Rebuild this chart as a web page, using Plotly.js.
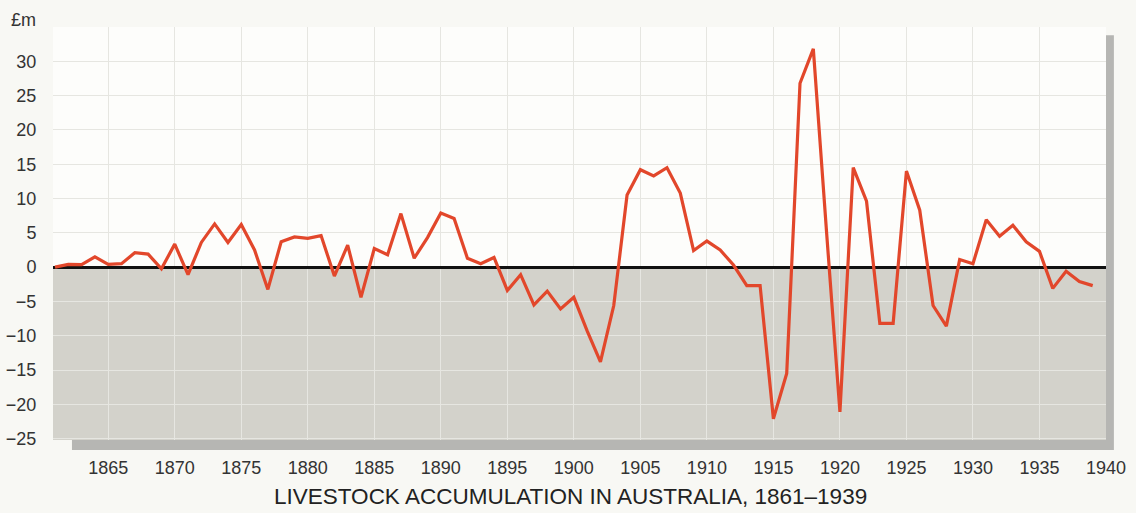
<!DOCTYPE html>
<html>
<head>
<meta charset="utf-8">
<script src="https://cdn.plot.ly/plotly-3.0.1.min.js"></script>
<style>
  html, body { margin: 0; padding: 0; background: #f8f8f4; }
  #chart { width: 1136px; height: 513px; }
</style>
</head>
<body>
<div id="chart"></div>
<script>
// Years 1861–1939
const years = [];
for (let y = 1861; y <= 1939; y++) years.push(y);

// Livestock accumulation, £m
const values = [
  0.0, 0.4, 0.35, 1.5, 0.4, 0.5, 2.1, 1.9, -0.25, 3.35,      // 1861-1870
  -1.1, 3.6, 6.3, 3.6, 6.2, 2.5, -3.25, 3.7, 4.4, 4.2,       // 1871-1880
  4.6, -1.3, 3.2, -4.4, 2.7, 1.8, 7.8, 1.3, 4.3, 7.9,        // 1881-1890
  7.1, 1.3, 0.5, 1.4, -3.4, -1.1, -5.5, -3.5, -6.1, -4.4,    // 1891-1900
  -9.3, -13.8, -5.6, 10.5, 14.2, 13.3, 14.5, 10.8, 2.4, 3.8, // 1901-1910
  2.5, 0.3, -2.7, -2.7, -22.1, -15.5, 26.8, 31.8, 5.0, -21.1,// 1911-1920
  14.5, 9.6, -8.2, -8.2, 14.0, 8.3, -5.6, -8.6, 1.1, 0.5,    // 1921-1930
  6.9, 4.5, 6.1, 3.7, 2.3, -3.1, -0.6, -2.1, -2.7            // 1931-1939
];

const xTickVals = [1865, 1870, 1875, 1880, 1885, 1890, 1895, 1900, 1905, 1910, 1915, 1920, 1925, 1930, 1935, 1940];
const xTickText = ['1865', '1870', '1875', '1880', '1885', '1890', '1895', '1900', '1905', '1910', '1915', '1920', '1925', '1930', '1935', '1940'];
const yTickVals = [-25, -20, -15, -10, -5, 0, 5, 10, 15, 20, 25, 30, 35];
const yTickText = ['\u221225', '\u221220', '\u221215', '\u221210', '\u22125', '0', '5', '10', '15', '20', '25', '30', ''];

const unitLabel = '£m';
const chartTitle = 'LIVESTOCK ACCUMULATION IN AUSTRALIA, 1861–1939';

const FONT = 'Liberation Sans, Arial, Helvetica, sans-serif';

const trace = {
  x: years,
  y: values,
  type: 'scatter',
  mode: 'lines',
  line: { color: '#e2472b', width: 3.2 },
  hoverinfo: 'x+y'
};

const layout = {
  width: 1136,
  height: 513,
  margin: { l: 53, r: 30, t: 27, b: 73 },
  paper_bgcolor: '#f8f8f4',
  plot_bgcolor: '#fdfdfb',
  showlegend: false,
  font: { family: FONT, color: '#333333', size: 18 },
  xaxis: {
    range: [1860.85, 1940],
    tickmode: 'array',
    tickvals: xTickVals,
    ticktext: xTickText,
    showgrid: true,
    gridcolor: '#e6e6e1',
    gridwidth: 1,
    zeroline: false,
    showline: false,
    ticks: 'outside',
    ticklen: 11,
    tickcolor: 'rgba(0,0,0,0)',
    tickfont: { family: FONT, size: 18, color: '#333333' },
    fixedrange: true
  },
  yaxis: {
    range: [-25.2, 35],
    tickmode: 'array',
    tickvals: yTickVals,
    ticktext: yTickText,
    showgrid: true,
    gridcolor: '#e6e6e1',
    gridwidth: 1,
    zeroline: true,
    zerolinecolor: '#111111',
    zerolinewidth: 3,
    showline: false,
    ticks: 'outside',
    ticklen: 12,
    tickcolor: 'rgba(0,0,0,0)',
    tickfont: { family: FONT, size: 18, color: '#333333' },
    fixedrange: true
  },
  shapes: [
    // grey area below zero
    { type: 'rect', xref: 'paper', yref: 'y', x0: 0, x1: 1, y0: -25.2, y1: 0,
      fillcolor: '#d3d2cb', line: { width: 0 }, layer: 'below' },
    // drop shadow, right side
    { type: 'rect', xref: 'paper', yref: 'paper', x0: 1.0, x1: 1.0075, y0: -0.024, y1: 0.98,
      fillcolor: '#b6b6b3', line: { width: 0 }, layer: 'below' },
    // drop shadow, bottom
    { type: 'rect', xref: 'paper', yref: 'paper', x0: 0.018, x1: 1.0, y0: -0.024, y1: 0,
      fillcolor: '#b6b6b3', line: { width: 0 }, layer: 'below' }
  ],
  annotations: [
    { text: unitLabel, xref: 'paper', yref: 'paper', x: -0.014, y: 1.017, xanchor: 'right', yanchor: 'middle',
      showarrow: false, font: { family: FONT, size: 18, color: '#333333' } },
    { text: chartTitle, xref: 'paper', yref: 'paper', x: 0.491, y: -0.138, xanchor: 'center', yanchor: 'middle',
      showarrow: false, font: { family: FONT, size: 22.5, color: '#222222' } }
  ]
};

Plotly.newPlot('chart', [trace], layout, { displayModeBar: false, staticPlot: true });
</script>
</body>
</html>
